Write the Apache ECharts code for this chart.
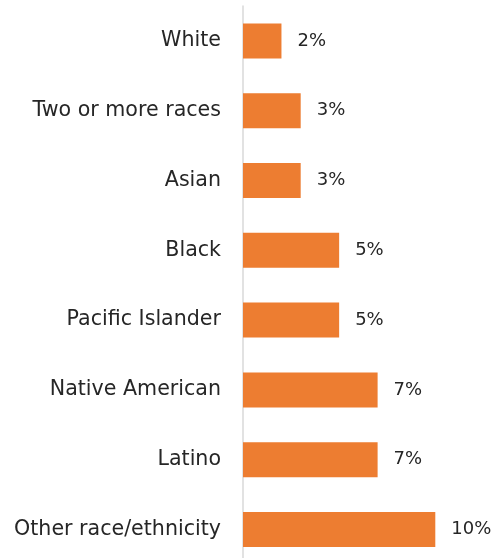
<!DOCTYPE html>
<html>
<head>
<meta charset="utf-8">
<script src="https://cdn.jsdelivr.net/npm/echarts@6/dist/echarts.min.js"></script>
<style>
  html, body { margin: 0; padding: 0; background: #fff; overflow: hidden; }
  #chart { width: 494px; height: 565px; }
</style>
</head>
<body>
<div id="chart"></div>
<script>
// Share of each group, in percent (top to bottom as displayed)
const categories = [
  'White',
  'Two or more races',
  'Asian',
  'Black',
  'Pacific Islander',
  'Native American',
  'Latino',
  'Other race/ethnicity'
];
const values = [2, 3, 3, 5, 5, 7, 7, 10];

const FONT = '"DejaVu Sans", sans-serif';

const chart = echarts.init(document.getElementById('chart'));
chart.setOption({
  animation: false,
  grid: { left: 243, width: 192.3, top: 6, height: 558.4, containLabel: false },
  xAxis: {
    type: 'value',
    min: 0,
    max: 10,
    show: false
  },
  yAxis: {
    type: 'category',
    inverse: true,
    data: categories,
    axisLine: { show: true, lineStyle: { color: '#d9d9d9', width: 1.5 } },
    axisTick: { show: false },
    axisLabel: {
      margin: 22,
      color: '#262626',
      fontFamily: FONT,
      fontSize: 20.6
    }
  },
  series: [{
    type: 'bar',
    data: values,
    barWidth: 35,
    itemStyle: { color: '#ED7D31' },
    label: {
      show: true,
      position: 'right',
      distance: 16,
      formatter: p => p.value + '%',
      color: '#262626',
      fontFamily: FONT,
      fontSize: 18
    }
  }]
});
</script>
</body>
</html>
